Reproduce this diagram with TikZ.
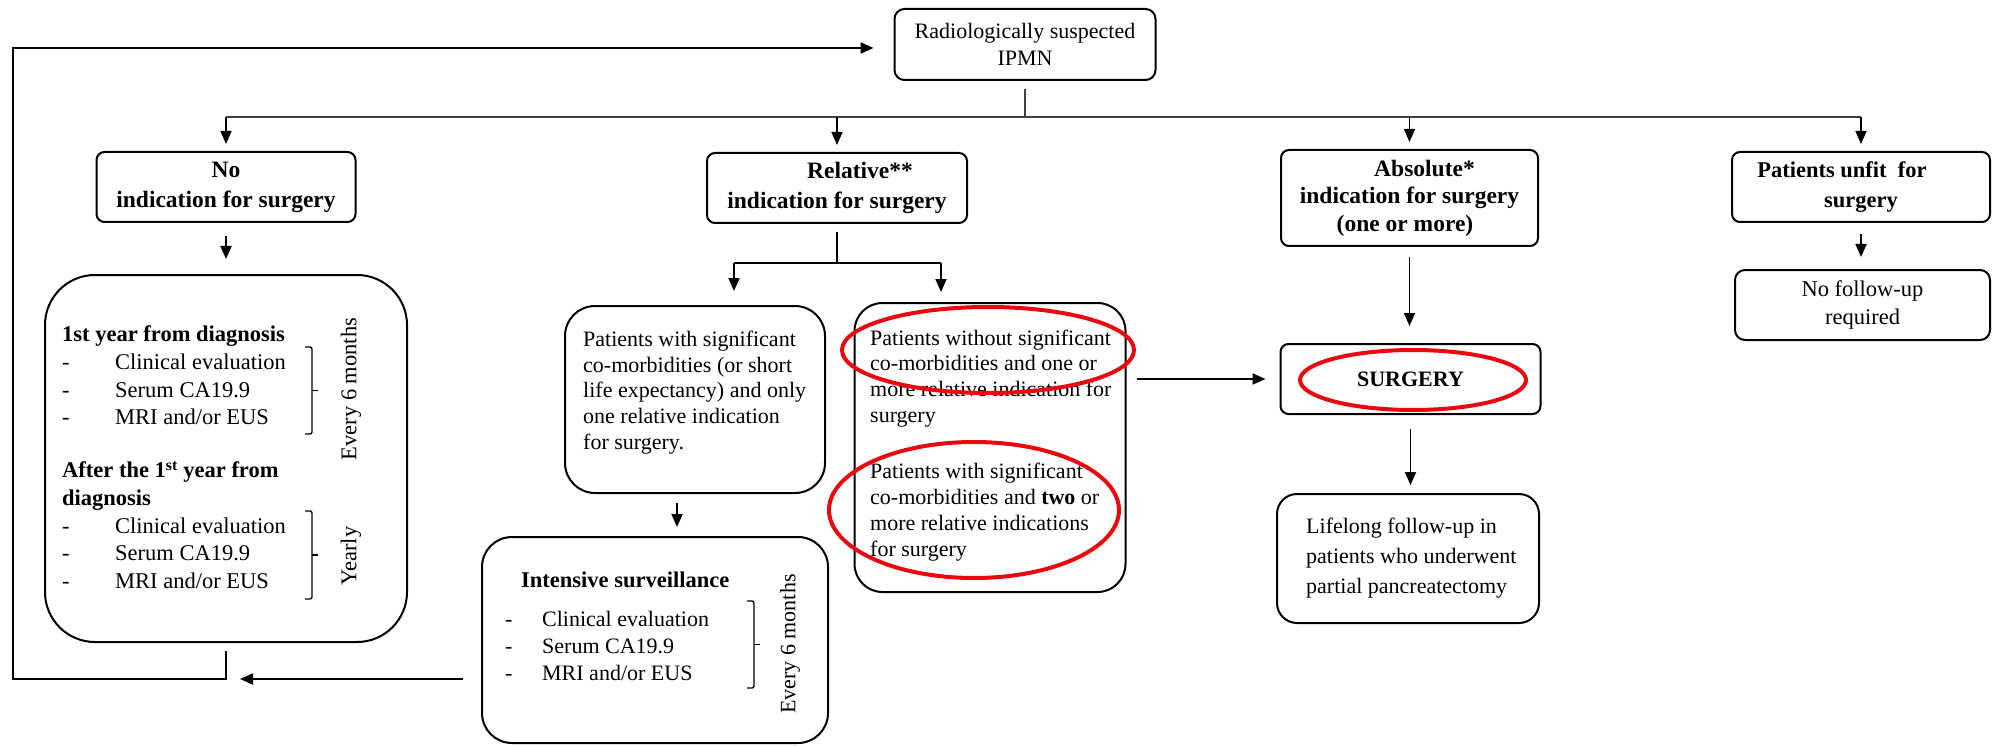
\documentclass[tikz,border=0pt]{standalone}
\usepackage{fontspec}
\setmainfont{Liberation Serif}
\usetikzlibrary{arrows.meta}
\definecolor{hlred}{RGB}{232,8,14}

\begin{document}
\begin{tikzpicture}[x=1pt,y=-1pt,
  box/.style={draw, line width=2pt, rounded corners=#1, inner sep=0pt},
  box/.default=8pt,
  txt/.style={inner sep=0pt, align=left, anchor=west},
  body/.style={font=\fontsize{22}{25.8}\selectfont},
  lst/.style={font=\fontsize{22.5}{27.6}\selectfont},
  head/.style={font=\bfseries\fontsize{23.5}{30}\selectfont, align=center},
  conn/.style={line width=1.8pt, -{Triangle[length=13pt,width=11pt]}},
  plain/.style={line width=1.8pt},
  branch/.style={line width=1.4pt, black!75},
  bracket/.style={line width=1.3pt, rounded corners=2pt},
  hl/.style={draw=hlred, line width=4pt},
]
\useasboundingbox (0,0) rectangle (1992,746);

% ---------- boxes ----------
\node[box=10pt, minimum width=261pt, minimum height=71pt, align=center,
      font=\fontsize{22}{27}\selectfont] (Top) at (1025,44.5)
      {Radiologically suspected\\IPMN};

\node[box, head, minimum width=259pt, minimum height=70pt] (No) at (226,187)
      {No\\indication for surgery};
\node[box, head, minimum width=260pt, minimum height=70pt] (Rel) at (837,188)
      {\hspace*{46pt}Relative**\\indication for surgery};
\node[box, head, font=\bfseries\fontsize{23.5}{27.5}\selectfont,
      minimum width=257pt, minimum height=96pt] (Abs) at (1409.5,198)
      {\hspace*{30pt}Absolute*\\indication for surgery\hspace*{22pt}\\(one or more)\hspace*{9pt}};
\node[box, head, font=\bfseries\fontsize{22.5}{30}\selectfont,
      minimum width=258pt, minimum height=70pt] (Unfit) at (1861,187)
      {Patients unfit\ \ for\hspace*{38pt}\\surgery};

% no indication: follow-up schedule
\node[box=50pt, minimum width=362pt, minimum height=367pt] (NoBig) at (226,458.5) {};
\node[txt, lst] (NoA) at (62,375.5)
      {\textbf{1st year from diagnosis}\\
       \makebox[53pt][l]{-}Clinical evaluation\\
       \makebox[53pt][l]{-}Serum CA19.9\\
       \makebox[53pt][l]{-}MRI and/or EUS};
\node[txt, lst] (NoB) at (62,525)
      {\textbf{After the 1\textsuperscript{st} year from}\\
       \textbf{diagnosis}\\
       \makebox[53pt][l]{-}Clinical evaluation\\
       \makebox[53pt][l]{-}Serum CA19.9\\
       \makebox[53pt][l]{-}MRI and/or EUS};
\draw[bracket] (305,347) -- (312,347) -- (312,434) -- (305,434);
\draw[bracket] (312,390.5) -- (318,390.5);
\draw[bracket] (305,511) -- (312,511) -- (312,599) -- (305,599);
\draw[bracket] (312,555) -- (318,555);
\node[rotate=90, lst, inner sep=0pt] (NoE6) at (351,389) {Every 6 months};
\node[rotate=90, lst, inner sep=0pt] (NoYr) at (351,556) {Yearly};

% relative indication: two groups
\node[box=30pt, minimum width=260pt, minimum height=187pt] (P1) at (695,399.5) {};
\node[txt, body] (P1t) at (583,392.5)
      {Patients with significant\\co-morbidities (or short\\life expectancy) and only\\one relative indication\\for surgery.};

\node[box=28pt, minimum width=271pt, minimum height=289pt] (P2) at (990,447.5) {};
\node[txt, body] (P2a) at (870,378.5)
      {Patients without significant\\co-morbidities and one or\\more relative indication for\\surgery};
\node[txt, body] (P2b) at (870,512)
      {Patients with significant\\co-morbidities and \textbf{two} or\\more relative indications\\for surgery};

% intensive surveillance
\node[box=30pt, minimum width=346pt, minimum height=206pt] (Int) at (655,640) {};
\node[txt, font=\bfseries\fontsize{22.5}{27}\selectfont] (IntH) at (521,580) {Intensive surveillance};
\node[txt, font=\fontsize{22}{27}\selectfont] (IntL) at (505,646)
      {\makebox[37pt][l]{-}Clinical evaluation\\
       \makebox[37pt][l]{-}Serum CA19.9\\
       \makebox[37pt][l]{-}MRI and/or EUS};
\draw[bracket] (747,601) -- (754,601) -- (754,688) -- (747,688);
\draw[bracket] (754,644.5) -- (760,644.5);
\node[rotate=90, font=\fontsize{22}{27}\selectfont, inner sep=0pt] (IntE6) at (790,644) {Every 6 months};

% surgery and after
\node[box, minimum width=260pt, minimum height=70pt,
      font=\bfseries\fontsize{22}{22}\selectfont] (Surg) at (1410.5,379) {SURGERY};
\node[box=20pt, minimum width=262pt, minimum height=129pt] (Life) at (1408,558.5) {};
\node[txt, font=\fontsize{22}{30}\selectfont] (LifeT) at (1306,558)
      {Lifelong follow-up in\\patients who underwent\\partial pancreatectomy};

\node[box=10pt, minimum width=255pt, minimum height=70pt, align=center,
      font=\fontsize{22.5}{28}\selectfont] (NoFU) at (1862.5,305)
      {No follow-up\\required};

% ---------- connectors ----------
\coordinate (brY) at (0,117);
\draw[branch, shorten <=8pt] (Top.south) -- (Top.south |- brY);
\draw[branch] (No.north |- brY) -- (Unfit.north |- brY);
\foreach \n in {No,Rel,Abs,Unfit}
  \draw[conn, line width=1.4pt, shorten >=7pt] (\n.north |- brY) -- (\n.north);

\draw[conn, shorten <=13pt, shorten >=15pt] (No.south) -- (NoBig.north);

\coordinate (rbL) at (734,263);
\coordinate (rbR) at (941,263);
\draw[plain, shorten <=8pt] (Rel.south) -- (Rel.south |- rbL);
\draw[plain] (rbL) -- (rbR);
\draw[conn, shorten >=14pt] (rbL) -- (rbL |- P1.north);
\draw[conn, shorten >=10pt] (rbR) -- (rbR |- P2.north);

\coordinate (p1x) at (677,0);
\draw[conn, shorten <=9pt, shorten >=9pt] (P1.south -| p1x) -- (Int.north -| p1x);

% loop back to the start
\coordinate (fbB) at (13,679);
\coordinate (fbT) at (13,48);
\draw[conn, line width=2.2pt, shorten <=8pt, shorten >=20pt]
  (NoBig.south) -- (NoBig.south |- fbB) -- (fbB) -- (fbT) -- (fbT -| Top.west);
\draw[conn, shorten <=18pt, shorten >=14pt] (Int.west |- fbB) -- (NoBig.south |- fbB);

\draw[conn, shorten <=10pt, shorten >=14pt] (P2.east |- Surg.west) -- (Surg.west);
\draw[conn, shorten <=10pt, shorten >=17pt] (Abs.south) -- (Abs.south |- Surg.north);
\draw[conn, shorten <=14pt, shorten >=8pt] (Surg.south) -- (Surg.south |- Life.north);
\draw[conn, shorten <=11pt, shorten >=12pt] (Unfit.south) -- (Unfit.south |- NoFU.north);

% ---------- red highlights ----------
\draw[hl] (988,350) ellipse [x radius=146, y radius=43];
\draw[hl] (974,510) ellipse [x radius=145, y radius=68];
\draw[hl] (1413,380) ellipse [x radius=113, y radius=30];
\end{tikzpicture}
\end{document}
